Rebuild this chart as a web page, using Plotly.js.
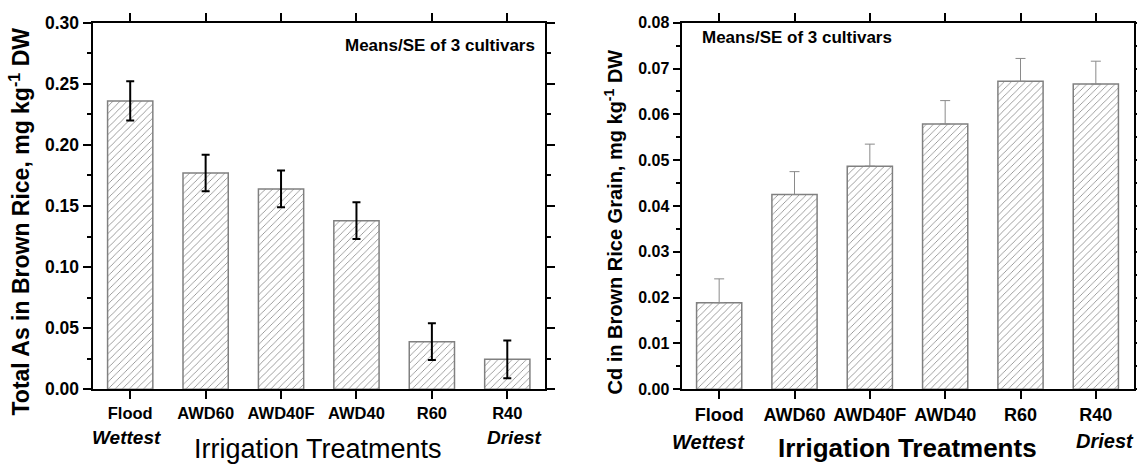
<!DOCTYPE html>
<html>
<head>
<meta charset="utf-8">
<script src="https://cdn.plot.ly/plotly-3.0.1.min.js"></script>
<style>html,body{margin:0;padding:0;background:#fff;}#chart{width:1137px;height:465px;}</style>
</head>
<body>
<div id="chart"></div>
<script>
const categories = ["Flood", "AWD60", "AWD40F", "AWD40", "R60", "R40"];
const asValues = [0.236, 0.177, 0.164, 0.138, 0.039, 0.0245];
const asErrors = [0.016, 0.015, 0.015, 0.015, 0.015, 0.0155];
const cdValues = [0.0189, 0.0425, 0.0487, 0.0579, 0.0672, 0.0666];
const cdErrors = [0.0052, 0.0050, 0.0048, 0.0051, 0.0050, 0.0050];
const leftYTicks = [0, 0.05, 0.10, 0.15, 0.20, 0.25, 0.30];
const leftYTickText = ["0.00", "0.05", "0.10", "0.15", "0.20", "0.25", "0.30"];
const rightYTicks = [0, 0.01, 0.02, 0.03, 0.04, 0.05, 0.06, 0.07, 0.08];
const rightYTickText = ["0.00", "0.01", "0.02", "0.03", "0.04", "0.05", "0.06", "0.07", "0.08"];

const W = 1137, H = 465;
const px = x => x / W;
const py = y => 1 - y / H;
const FONT = "Liberation Sans, Arial, sans-serif";
const hatch = {shape: "/", fgcolor: "#808080", bgcolor: "#ffffff", size: 5, solidity: 0.15, fillmode: "replace"};

const traces = [
  {
    type: "bar", x: categories, y: asValues, xaxis: "x", yaxis: "y", width: 0.6,
    marker: {color: "#ffffff", pattern: hatch, line: {color: "#808080", width: 1.5}},
    error_y: {type: "data", array: asErrors, visible: true, color: "#000000", thickness: 2, width: 4},
    showlegend: false, hoverinfo: "skip"
  },
  {
    type: "bar", x: categories, y: cdValues, xaxis: "x2", yaxis: "y2", width: 0.6,
    marker: {color: "#ffffff", pattern: hatch, line: {color: "#808080", width: 1.5}},
    error_y: {type: "data", symmetric: false, array: cdErrors, arrayminus: cdValues.map(() => 0), visible: true, color: "#8a8a8a", thickness: 1, width: 5},
    showlegend: false, hoverinfo: "skip"
  }
];

function xax(domain, size, standoff) {
  return {
    domain: domain, type: "category", categoryorder: "array", categoryarray: categories,
    range: [-0.5, 5.5], showline: true, linecolor: "#000", linewidth: 2, mirror: "ticks",
    ticks: "outside", ticklen: 8, tickwidth: 2, tickcolor: "#000", ticklabelstandoff: standoff,
    tickfont: {family: FONT, size: size, color: "#000", weight: "bold"},
    showgrid: false, zeroline: false, fixedrange: true
  };
}
function yax(anchor, range, tv, tt, minorD, size, len) {
  return {
    domain: [py(389.3), py(22.7)], anchor: anchor, range: range,
    tickmode: "array", tickvals: tv, ticktext: tt,
    showline: true, linecolor: "#000", linewidth: 2, mirror: "ticks",
    ticks: "outside", ticklen: len, tickwidth: 2, tickcolor: "#000",
    minor: {tickmode: "linear", tick0: 0, dtick: minorD, ticks: "outside", ticklen: 4, tickwidth: 2, tickcolor: "#000", showgrid: false},
    tickfont: {family: FONT, size: size, color: "#000", weight: "bold"},
    showgrid: false, zeroline: false, fixedrange: true
  };
}

const ann = (text, x, y, size, opts) => Object.assign({
  text: text, xref: "paper", yref: "paper", x: px(x), y: py(y),
  xanchor: "center", yanchor: "middle", showarrow: false,
  font: {family: FONT, size: size, color: "#000"}
}, opts || {});

const layout = {
  width: W, height: H, margin: {l: 0, r: 0, t: 0, b: 0},
  paper_bgcolor: "#fff", plot_bgcolor: "#fff", bargap: 0.4,
  xaxis: Object.assign(xax([px(92.5), px(545)], 16.5, 0), {anchor: "y"}),
  yaxis: yax("x", [0, 0.30], leftYTicks, leftYTickText, 0.025, 17.5, 8),
  xaxis2: Object.assign(xax([px(681.5), px(1133.5)], 18, 0), {anchor: "y2"}),
  yaxis2: yax("x2", [0, 0.08], rightYTicks, rightYTickText, 0.005, 16, 7),
  annotations: [
    ann("<b>Total As in Brown Rice, mg kg<sup>-1</sup> DW</b>", 19, 221.5, 23, {textangle: -90}),
    ann("<b>Cd in Brown Rice Grain, mg kg<sup>-1</sup> DW</b>", 613, 222.5, 20, {textangle: -90}),
    ann("Irrigation Treatments", 317.5, 449, 27),
    ann("<b>Irrigation Treatments</b>", 907.5, 448, 26),
    ann("<b><i>Wettest</i></b>", 126.7, 437, 19),
    ann("<b><i>Driest</i></b>", 514, 437, 19),
    ann("<b><i>Wettest</i></b>", 708, 442, 20),
    ann("<b><i>Driest</i></b>", 1136, 441, 20, {xanchor: "right"}),
    ann("<b>Means/SE of 3 cultivars</b>", 537, 45, 17, {xanchor: "right"}),
    ann("<b>Means/SE of 3 cultivars</b>", 700, 37, 17, {xanchor: "left"})
  ]
};

Plotly.newPlot("chart", traces, layout, {staticPlot: true, displayModeBar: false});
</script>
</body>
</html>
